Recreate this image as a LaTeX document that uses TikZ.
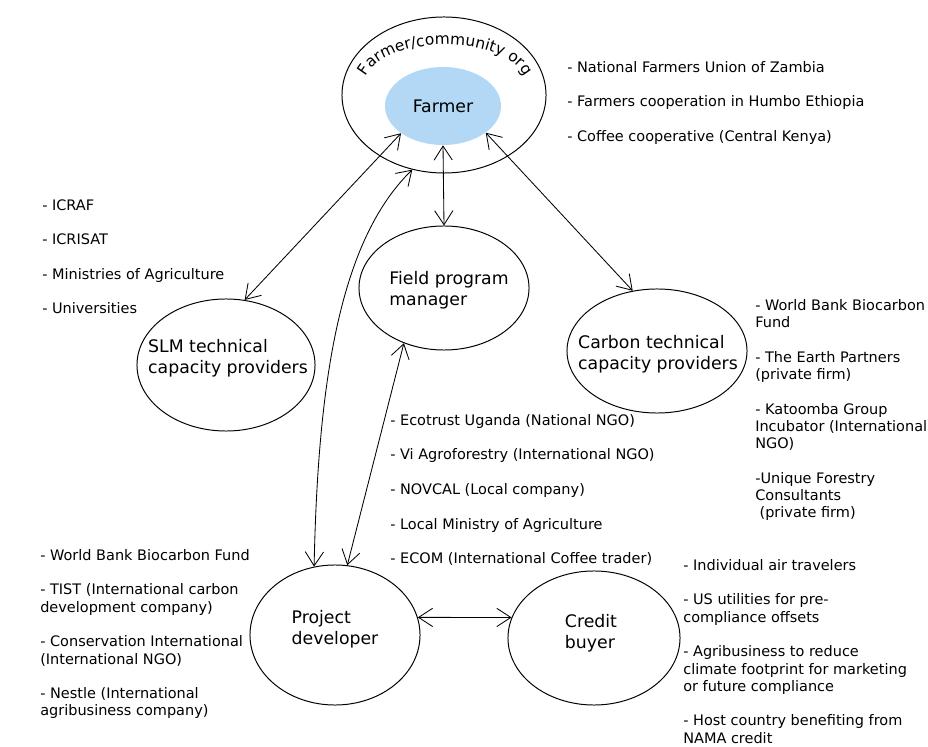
\documentclass[tikz,border=0pt]{standalone}
\usepackage{fontspec}
\setmainfont{DejaVu Sans}
\usetikzlibrary{shapes.geometric,arrows.meta,decorations.text}
\definecolor{farmerblue}{RGB}{178,216,245}
\begin{document}
\begin{tikzpicture}[x=0.025cm,y=-0.025cm,
    actor/.style={draw,ellipse,inner sep=0pt,line width=0.7pt},
    actortext/.style={align=left,inner sep=0pt,font=\fontsize{12.3}{14.8}\selectfont},
    members/.style={anchor=north west,align=left,inner sep=0pt,font=\fontsize{10.3}{12.3}\selectfont},
    relation/.style={{Straight Barb[length=10pt,width=13pt]}-{Straight Barb[length=10pt,width=13pt]},line width=0.6pt}]
    \useasboundingbox (0,0) rectangle (928,747);
    %% Actors
    \node[actor,minimum width=5.1cm,minimum height=3.9cm] (org) at (444,95) {};
    \node[ellipse,fill=farmerblue,inner sep=0pt,minimum width=2.9cm,minimum height=1.95cm] (farmer) at (443,106) {};
    \node[actortext] (farmertxt) at (443,106) {Farmer};
    \node[actor,minimum width=4.25cm,minimum height=3.1cm] (field) at (444,288) {};
    \node[actor,minimum width=4.45cm,minimum height=3.3cm] (slm) at (226,365) {};
    \node[actor,minimum width=4.5cm,minimum height=3.1cm] (carbon) at (657,351) {};
    \node[actor,minimum width=4.25cm,minimum height=3.5cm] (dev) at (335,635) {};
    \node[actor,minimum width=4.3cm,minimum height=3.35cm] (buyer) at (594,638) {};
    %% Names
    \path[decorate,decoration={text along path,text align=center,
        text={|\fontsize{11}{14}\selectfont|Farmer/community org}}]
        (363.3,85.1) arc[start angle=178,end angle=2,x radius=2.05cm,y radius=1.05cm];
    \node[actortext] (fieldtxt) at (449,290) {Field program\\manager};
    \node[actortext] (slmtxt) at (228,358) {SLM technical\\capacity providers};
    \node[actortext] (carbontxt) at (658,354) {Carbon technical\\capacity providers};
    \node[actortext] (devtxt) at (335,629) {Project\\developer};
    \node[actortext] (buyertxt) at (591,633) {Credit\\buyer};
    %% Links
    \draw[relation] (farmer.213) -- (slm.74);
    \draw[relation] (farmer.south) -- (field.north);
    \draw[relation] (farmer.328) -- (carbon.112);
    \draw[relation] (dev.107) .. controls (318,380) and (340,240) .. (org.247);
    \draw[relation] (field.234) -- (dev.80);
    \draw[relation] (dev.12) -- (buyer.166);
    %% Lists
    \node[members] (orglist) at (567,61) {- National Farmers Union of Zambia\\[12.3pt]
        - Farmers cooperation in Humbo Ethiopia\\[12.3pt]
        - Coffee cooperative (Central Kenya)};
    \node[members] (slmlist) at (42,199) {- ICRAF\\[12.3pt]
        - ICRISAT\\[12.3pt]
        - Ministries of Agriculture\\[12.3pt]
        - Universities};
    \node[members] (fieldlist) at (390,414) {- Ecotrust Uganda (National NGO)\\[12.3pt]
        - Vi Agroforestry (International NGO)\\[12.3pt]
        - NOVCAL (Local company)\\[12.3pt]
        - Local Ministry of Agriculture\\[12.3pt]
        - ECOM (International Coffee trader)};
    \node[members] (carbonlist) at (755,299) {- World Bank Biocarbon\\Fund\\[12.3pt]
        - The Earth Partners\\(private firm)\\[12.3pt]
        - Katoomba Group\\Incubator (International\\NGO)\\[12.3pt]
        -Unique Forestry\\Consultants\\\hspace*{0.3em}(private firm)};
    \node[members] (devlist) at (40,549) {- World Bank Biocarbon Fund\\[12.3pt]
        - TIST (International carbon\\development company)\\[12.3pt]
        - Conservation International\\(International NGO)\\[12.3pt]
        - Nestle (International\\agribusiness company)};
    \node[members] (buyerlist) at (683,559) {- Individual air travelers\\[12.3pt]
        - US utilities for pre-\\compliance offsets\\[12.3pt]
        - Agribusiness to reduce\\climate footprint for marketing\\or future compliance\\[12.3pt]
        - Host country benefiting from\\NAMA credit};
\end{tikzpicture}
\end{document}
